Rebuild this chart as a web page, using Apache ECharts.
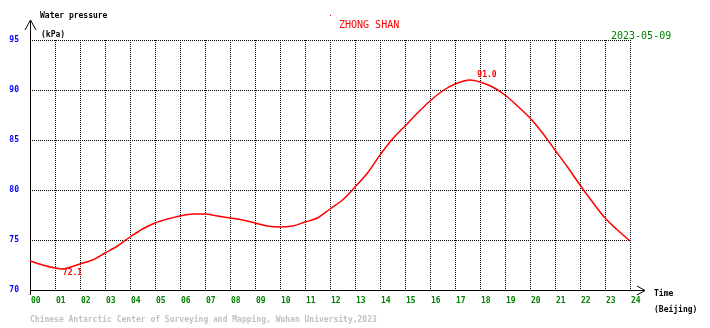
<!DOCTYPE html>
<html>
<head>
<meta charset="utf-8">
<script src="https://cdn.jsdelivr.net/npm/echarts@6/dist/echarts.min.js"></script>
<style>
html,body{margin:0;padding:0;background:#fff;}
#chart{width:710px;height:328px;}
</style>
</head>
<body>
<div id="chart"></div>
<script>
var hours = [0,0.5,1,1.3,1.5,2,2.5,3,3.5,4,4.5,5,5.5,6,6.5,7,7.5,8,8.5,9,9.5,10,10.5,11,11.5,12,12.5,13,13.5,14,14.5,15,15.5,16,16.5,17,17.6,18,18.5,19,19.5,20,20.5,21,21.5,22,22.5,23,23.5,24];
var pressure = [72.9,72.5,72.2,72.1,72.2,72.6,73.0,73.7,74.4,75.3,76.1,76.7,77.1,77.4,77.6,77.6,77.4,77.2,77.0,76.7,76.4,76.3,76.4,76.8,77.2,78.1,79.0,80.3,81.7,83.5,85.1,86.4,87.7,88.9,89.9,90.6,91.0,90.8,90.3,89.5,88.4,87.2,85.7,84.0,82.3,80.5,78.8,77.2,76.0,74.9];
var stationName = 'ZHONG SHAN';
var dateText = '2023-05-09';
var yTitle = 'Water pressure';
var yUnit = '(kPa)';
var xTitle = 'Time';
var xUnit = '(Beijing)';
var footer = 'Chinese Antarctic Center of Surveying and Mapping, Wuhan University,2023';

var MONO = '"DejaVu Sans Mono", monospace';
var seriesData = hours.map(function (h, i) { return [h, pressure[i]]; });

var chart = echarts.init(document.getElementById('chart'), null, {renderer: 'canvas'});
chart.setOption({
  animation: false,
  backgroundColor: '#ffffff',
  grid: {left: 30, right: 80, top: 40, bottom: 38, containLabel: false},
  xAxis: {
    type: 'value', min: 0, max: 24, interval: 1,
    axisLine: {show: false}, axisTick: {show: false},
    splitLine: {show: true, lineStyle: {color: '#000', type: [1, 1], width: 1}},
    axisLabel: {
      color: '#008000', fontFamily: MONO, fontSize: 8, fontWeight: 'bold', align: 'left', margin: 7,
      padding: [0, 0, 0, 1],
      formatter: function (v) { return (v < 10 ? '0' : '') + v; }
    }
  },
  yAxis: {
    type: 'value', min: 70, max: 95, interval: 5,
    axisLine: {show: false}, axisTick: {show: false},
    splitLine: {show: true, lineStyle: {color: '#000', type: [1, 1], width: 1}},
    axisLabel: {color: '#0000ff', fontFamily: MONO, fontSize: 8, fontWeight: 'bold', margin: 11, padding: [0, 0, 5, 0]}
  },
  series: [{
    type: 'line',
    data: seriesData,
    smooth: 0.3,
    showSymbol: false,
    lineStyle: {color: '#ff0000', width: 1.5},
    markPoint: {
      symbol: 'circle', symbolSize: 0,
      label: {show: true, color: '#ff0000', fontFamily: MONO, fontSize: 8, fontWeight: 'bold',
        formatter: function (p) { return Number(p.value).toFixed(1); }},
      data: [
        {type: 'max', label: {offset: [17, -5]}},
        {type: 'min', label: {offset: [10, 4]}}
      ]
    }
  }],
  graphic: [
    {type: 'polyline', shape: {points: [[30.5, 295], [30.5, 20]]}, style: {stroke: '#000', lineWidth: 1, fill: null}},
    {type: 'polyline', shape: {points: [[25, 30], [30.5, 20], [36, 30]]}, style: {stroke: '#000', lineWidth: 1, fill: null}},
    {type: 'polyline', shape: {points: [[30, 290.5], [645, 290.5]]}, style: {stroke: '#000', lineWidth: 1, fill: null}},
    {type: 'polyline', shape: {points: [[637, 286], [645, 290.5], [637, 295]]}, style: {stroke: '#000', lineWidth: 1, fill: null}},
    {type: 'text', x: 40, y: 16, style: {text: yTitle, font: 'bold 8px ' + MONO, fill: '#000', textVerticalAlign: 'middle'}},
    {type: 'text', x: 41, y: 34.5, style: {text: yUnit, font: 'bold 8px ' + MONO, fill: '#000', textVerticalAlign: 'middle'}},
    {type: 'text', x: 339, y: 25, style: {text: stationName, font: '10px ' + MONO, fill: '#ff0000', textVerticalAlign: 'middle'}},
    {type: 'rect', shape: {x: 330, y: 15, width: 1, height: 1}, style: {fill: '#ff0000'}},
    {type: 'text', x: 611, y: 36.7, style: {text: dateText, font: '10px ' + MONO, fill: '#008000', textVerticalAlign: 'middle'}},
    {type: 'text', x: 654, y: 294, style: {text: xTitle, font: 'bold 8px ' + MONO, fill: '#000', textVerticalAlign: 'middle'}},
    {type: 'text', x: 654, y: 310, style: {text: xUnit, font: 'bold 8px ' + MONO, fill: '#000', textVerticalAlign: 'middle'}},
    {type: 'text', x: 30, y: 320, style: {text: footer, font: 'bold 8px ' + MONO, fill: '#c0c0c0', textVerticalAlign: 'middle'}}
  ]
});
</script>
</body>
</html>
